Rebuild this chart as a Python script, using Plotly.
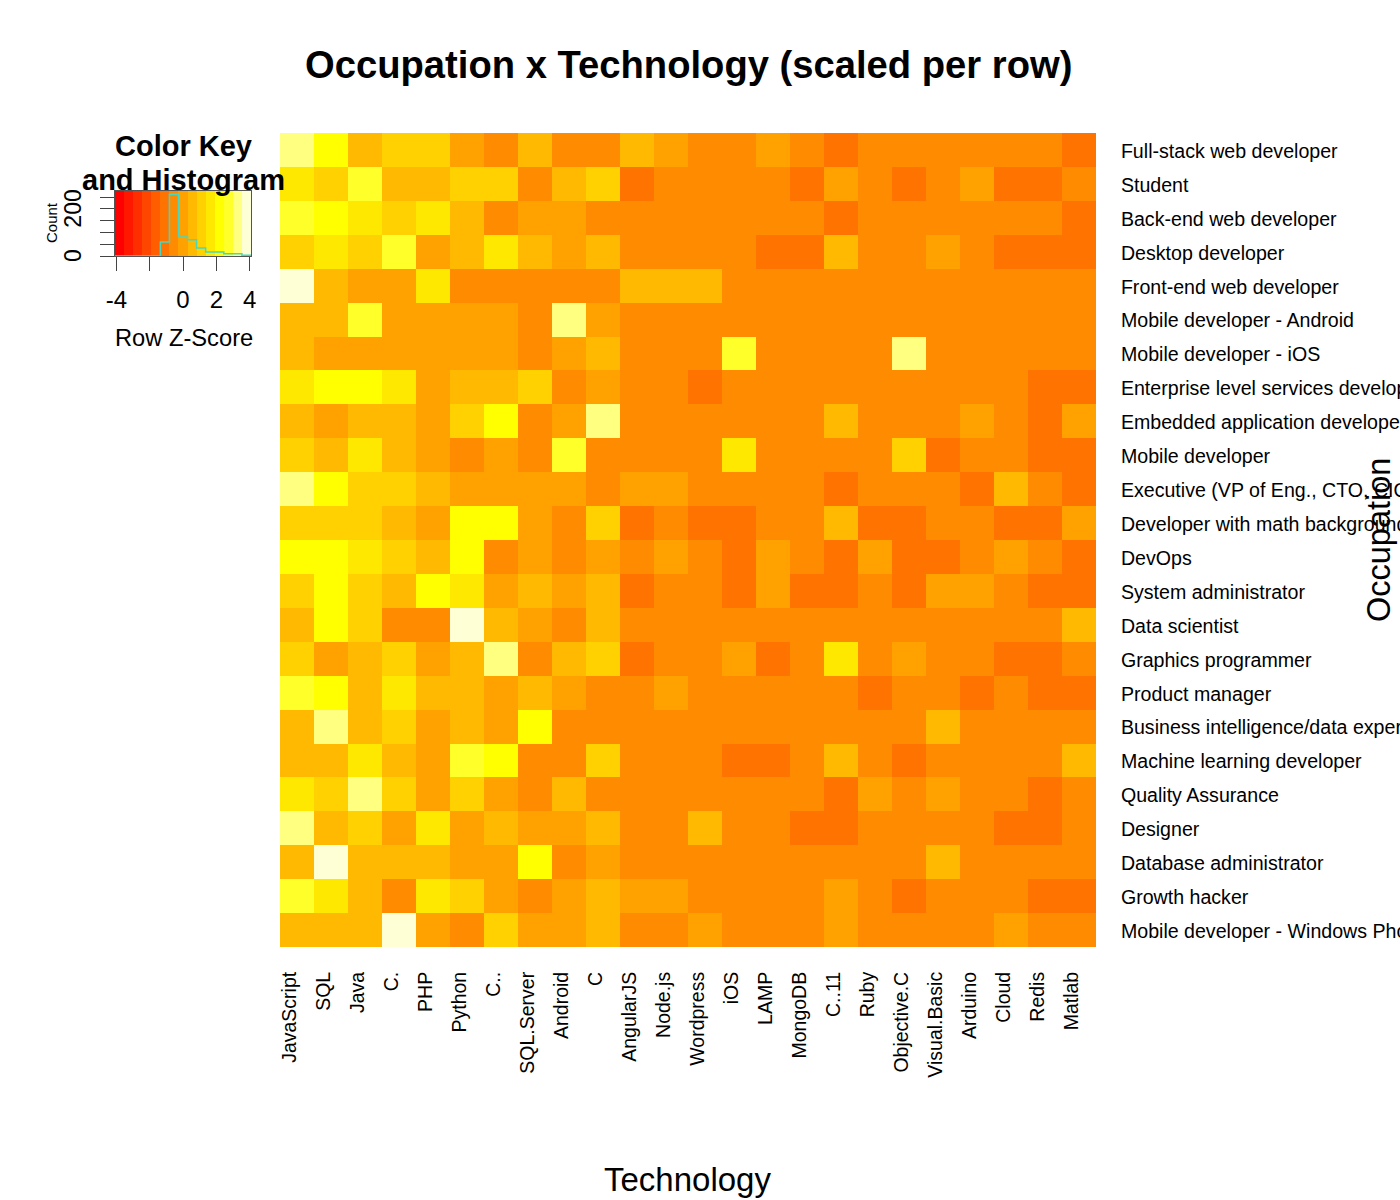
import plotly.graph_objects as go

technologies = ["JavaScript", "SQL", "Java", "C.", "PHP", "Python", "C..", "SQL.Server", "Android", "C",
                "AngularJS", "Node.js", "Wordpress", "iOS", "LAMP", "MongoDB", "C..11", "Ruby", "Objective.C",
                "Visual.Basic", "Arduino", "Cloud", "Redis", "Matlab"]
occupations = ["Full-stack web developer", "Student", "Back-end web developer", "Desktop developer",
               "Front-end web developer", "Mobile developer - Android", "Mobile developer - iOS",
               "Enterprise level services developer", "Embedded application developer", "Mobile developer",
               "Executive (VP of Eng., CTO, CIO, etc.)", "Developer with math background", "DevOps",
               "System administrator", "Data scientist", "Graphics programmer", "Product manager",
               "Business intelligence/data expert", "Machine learning developer", "Quality Assurance", "Designer",
               "Database administrator", "Growth hacker", "Mobile developer - Windows Phone"]

z_scores = [
 [3.26,2.18,0.54,1.09,1.09,0,-.54,0.54,-.54,-.54,0.54,0,-.54,-.54,0,-.54,-1.09,-.54,-.54,-.54,-.54,-.54,-.54,-1.09],
 [1.63,1.09,2.72,0.54,0.54,1.09,1.09,-.54,0.54,1.09,-1.09,-.54,-.54,-.54,-.54,-1.09,0,-.54,-1.09,-.54,0,-1.09,-1.09,-.54],
 [2.72,2.18,1.63,1.09,1.63,0.54,-.54,0,0,-.54,-.54,-.54,-.54,-.54,-.54,-.54,-1.09,-.54,-.54,-.54,-.54,-.54,-.54,-1.09],
 [1.09,1.63,1.09,2.72,0,0.54,1.63,0.54,0,0.54,-.54,-.54,-.54,-.54,-1.09,-1.09,0.54,-.54,-.54,0,-.54,-1.09,-1.09,-1.09],
 [3.81,0.54,0,0,1.63,-.54,-.54,-.54,-.54,-.54,0.54,0.54,0.54,-.54,-.54,-.54,-.54,-.54,-.54,-.54,-.54,-.54,-.54,-.54],
 [0.54,0.54,2.72,0,0,0,0,-.54,3.26,0,-.54,-.54,-.54,-.54,-.54,-.54,-.54,-.54,-.54,-.54,-.54,-.54,-.54,-.54],
 [0.54,0,0,0,0,0,0,-.54,0,0.54,-.54,-.54,-.54,2.72,-.54,-.54,-.54,-.54,3.26,-.54,-.54,-.54,-.54,-.54],
 [1.63,2.18,2.18,1.63,0,0.54,0.54,1.09,-.54,0,-.54,-.54,-1.09,-.54,-.54,-.54,-.54,-.54,-.54,-.54,-.54,-.54,-1.09,-1.09],
 [0.54,0,0.54,0.54,0,1.09,2.18,-.54,0,3.26,-.54,-.54,-.54,-.54,-.54,-.54,0.54,-.54,-.54,-.54,0,-.54,-1.09,0],
 [1.09,0.54,1.63,0.54,0,-.54,0,-.54,2.72,-.54,-.54,-.54,-.54,1.63,-.54,-.54,-.54,-.54,1.09,-1.09,-.54,-.54,-1.09,-1.09],
 [3.26,2.18,1.09,1.09,0.54,0,0,0,0,-.54,0,0,-.54,-.54,-.54,-.54,-1.09,-.54,-.54,-.54,-1.09,0.54,-.54,-1.09],
 [1.09,1.09,1.09,0.54,0,2.18,2.18,0,-.54,1.09,-1.09,-.54,-1.09,-1.09,-.54,-.54,0.54,-1.09,-1.09,-.54,-.54,-1.09,-1.09,0],
 [2.18,2.18,1.63,1.09,0.54,2.18,-.54,0,-.54,0,-.54,0,-.54,-1.09,0,-.54,-1.09,0,-1.09,-1.09,-.54,0,-.54,-1.09],
 [1.09,2.18,1.09,0.54,2.18,1.63,0,0.54,0,0.54,-1.09,-.54,-.54,-1.09,0,-1.09,-1.09,-.54,-1.09,0,0,-.54,-1.09,-1.09],
 [0.54,2.18,1.09,-.54,-.54,3.81,0.54,0,-.54,0.54,-.54,-.54,-.54,-.54,-.54,-.54,-.54,-.54,-.54,-.54,-.54,-.54,-.54,0.54],
 [1.09,0,0.54,1.09,0,0.54,3.26,-.54,0.54,1.09,-1.09,-.54,-.54,0,-1.09,-.54,1.63,-.54,0,-.54,-.54,-1.09,-1.09,-.54],
 [2.72,2.18,0.54,1.63,0.54,0.54,0,0.54,0,-.54,-.54,0,-.54,-.54,-.54,-.54,-.54,-1.09,-.54,-.54,-1.09,-.54,-1.09,-1.09],
 [0.54,3.26,0.54,1.09,0,0.54,0,2.18,-.54,-.54,-.54,-.54,-.54,-.54,-.54,-.54,-.54,-.54,-.54,0.54,-.54,-.54,-.54,-.54],
 [0.54,0.54,1.63,0.54,0,2.72,2.18,-.54,-.54,1.09,-.54,-.54,-.54,-1.09,-1.09,-.54,0.54,-.54,-1.09,-.54,-.54,-.54,-.54,0.54],
 [1.63,1.09,3.26,1.09,0,1.09,0,-.54,0.54,-.54,-.54,-.54,-.54,-.54,-.54,-.54,-1.09,0,-.54,0,-.54,-.54,-1.09,-.54],
 [3.26,0.54,1.09,0,1.63,0,0.54,0,0,0.54,-.54,-.54,0.54,-.54,-.54,-1.09,-1.09,-.54,-.54,-.54,-.54,-1.09,-1.09,-.54],
 [0.54,3.81,0.54,0.54,0.54,0,0,2.18,-.54,0,-.54,-.54,-.54,-.54,-.54,-.54,-.54,-.54,-.54,0.54,-.54,-.54,-.54,-.54],
 [2.72,1.63,0.54,-.54,1.63,1.09,0,-.54,0,0.54,0,0,-.54,-.54,-.54,-.54,0,-.54,-1.09,-.54,-.54,-.54,-1.09,-1.09],
 [0.54,0.54,0.54,3.81,0,-.54,1.09,0,0,0.54,-.54,-.54,0,-.54,-.54,-.54,0,-.54,-.54,-.54,-.54,0,-.54,-.54],
]

key_breaks = [-4.08, -3.536, -2.992, -2.448, -1.904, -1.36, -0.816, -0.272, 0.272, 0.816, 1.36, 1.904, 2.448, 2.992, 3.536, 4.08]
key_levels = [-3.81, -3.26, -2.72, -2.18, -1.63, -1.09, -0.54, 0, 0.54, 1.09, 1.63, 2.18, 2.72, 3.26, 3.81]
hist_counts = [0, 0, 0, 0, 0, 59, 262, 85, 69, 34, 17, 17, 10, 10, 3]
palette = ["#FF0000", "#FF1700", "#FF2E00", "#FF4600", "#FF5D00", "#FF7400", "#FF8B00", "#FFA200",
           "#FFB900", "#FFD100", "#FFE800", "#FFFF00", "#FFFF2A", "#FFFF80", "#FFFFD5"]
key_xticks = [-4, -2, 0, 2, 4]
key_xlabels = ["-4", "", "0", "2", "4"]
key_yticks = [0, 50, 100, 150, 200, 250]
key_ylabels = ["0", "", "", "", "200", ""]

FONT = "Liberation Sans"
colorscale = []
n = len(palette)
for i, c in enumerate(palette):
    colorscale += [[i / n, c], [(i + 1) / n, c]]

W, H = 1400, 1200
def xd(a, b): return [a / W, b / W]
def yd(top, bottom): return [1 - bottom / H, 1 - top / H]

fig = go.Figure()
fig.add_trace(go.Heatmap(x=technologies, y=occupations, z=z_scores, colorscale=colorscale, zmin=-4.08, zmax=4.08,
                         showscale=False, xaxis="x", yaxis="y"))
fig.add_trace(go.Heatmap(x=key_breaks, y=[0, 276], z=[key_levels], colorscale=colorscale, zmin=-4.08, zmax=4.08,
                         showscale=False, xaxis="x2", yaxis="y2"))
fig.add_trace(go.Scatter(x=key_breaks, y=hist_counts + [hist_counts[-1]], mode="lines", cliponaxis=False,
                         line=dict(color="#48D8C0", width=1.5, shape="hv"), showlegend=False, xaxis="x2", yaxis="y2"))

def ann(text, x, y, size, bold=False, angle=0):
    fig.add_annotation(text=f"<b>{text}</b>" if bold else text, x=x / W, y=1 - y / H, xref="paper", yref="paper",
                       xanchor="center", yanchor="middle", showarrow=False, textangle=angle,
                       font=dict(family=FONT, size=size, color="black"))

ann("Occupation x Technology (scaled per row)", 688, 64, 38.2, bold=True)
ann("Technology", 687, 1179, 33)
ann("Occupation", 1379, 540, 32.5, angle=-90)
ann("Color Key", 183, 146, 29, bold=True)
ann("and Histogram", 183, 180, 29, bold=True)
ann("Row Z-Score", 184, 338, 23.7)
ann("Count", 52, 223, 15, angle=-90)

fig.update_layout(
    width=W, height=H, autosize=False, margin=dict(l=0, r=0, t=0, b=0),
    paper_bgcolor="white", plot_bgcolor="white", showlegend=False,
    font=dict(family=FONT, color="black"),
    xaxis=dict(domain=xd(280, 1096), anchor="y", automargin=False, tickmode="array", tickvals=technologies,
               ticktext=technologies, tickangle=-90, ticks="outside", ticklen=16, tickcolor="rgba(0,0,0,0)",
               ticklabelshift=-7, showgrid=False, zeroline=False, showline=False,
               tickfont=dict(family=FONT, size=19.5)),
    yaxis=dict(domain=yd(133, 947), anchor="x", automargin=False, side="right", autorange="reversed",
               tickmode="array", tickvals=occupations, ticktext=occupations, ticks="outside", ticklen=20,
               ticklabelshift=-1, tickcolor="rgba(0,0,0,0)", showgrid=False, zeroline=False, showline=False,
               tickfont=dict(family=FONT, size=19.6)),
    xaxis2=dict(domain=xd(115, 251), anchor="y2", automargin=False, range=[-4.08, 4.08], tickmode="array",
                tickvals=key_xticks, ticktext=key_xlabels, ticks="outside", ticklen=14, tickwidth=1, tickcolor="#444",
                showgrid=False, zeroline=False, showline=True, linecolor="#555", linewidth=1, mirror=True,
                ticklabelstandoff=8, tickangle=0, tickfont=dict(family=FONT, size=24)),
    yaxis2=dict(domain=yd(191, 256), anchor="x2", automargin=False, range=[0, 276], tickmode="array",
                tickvals=key_yticks, ticktext=key_ylabels, ticks="outside", ticklen=14, tickwidth=1, tickcolor="#444",
                showgrid=False, zeroline=False, showline=True, linecolor="#555", linewidth=1, mirror=True,
                ticklabelstandoff=10, ticklabelshift=3, tickangle=-90, tickfont=dict(family=FONT, size=23)),
)
fig.write_html("out.html", config=dict(displayModeBar=False),
               post_script="document.body.style.margin='0';window.dispatchEvent(new Event('resize'));")
